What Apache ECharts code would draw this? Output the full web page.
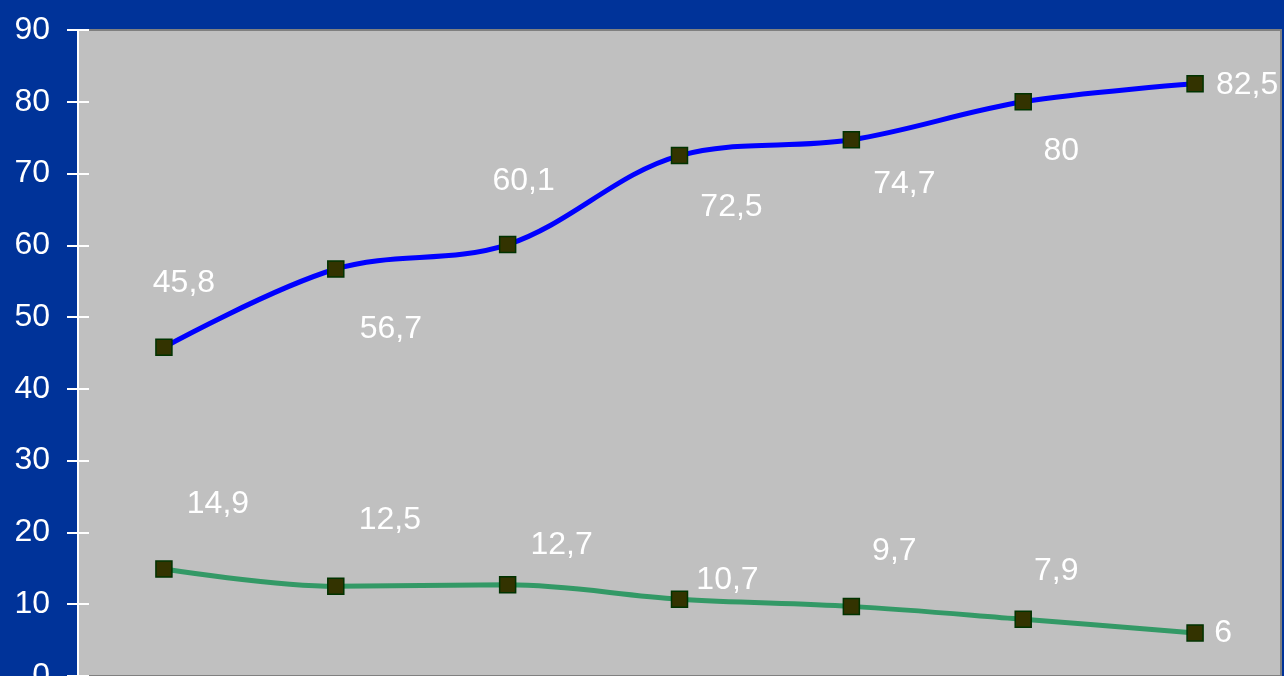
<!DOCTYPE html>
<html><head><meta charset="utf-8">
<script src="https://cdn.jsdelivr.net/npm/echarts@6/dist/echarts.min.js"></script>
<style>html,body{margin:0;padding:0;background:#003399;overflow:hidden;}#c{width:1284px;height:700px;}</style>
</head><body><div id="c"></div>
<script>
var categories = ['1', '2', '3', '4', '5', '6', '7'];
var seriesUpper = [45.8, 56.7, 60.1, 72.5, 74.7, 80, 82.5];
var seriesLower = [14.9, 12.5, 12.7, 10.7, 9.7, 7.9, 6];
var yTicks = { min: 0, max: 90, interval: 10 };

var upperOffsets = [[20,-64],[55,60],[16,-63],[52,52],[53,44],[38,49],[52,1]];
var lowerOffsets = [[54,-65],[54,-66],[54,-40],[48,-19],[43,-55],[33,-48],[28,0]];

function fmt(v){ return String(v).replace('.', ','); }
function build(vals, offs){
  return vals.map(function(v,i){
    return { value: v, label: { offset: offs[i] } };
  });
}
var labelStyle = {
  show: true, position: 'inside', color: '#ffffff', fontSize: 32,
  fontFamily: 'Liberation Sans, Arial, sans-serif',
  formatter: function(p){ return fmt(p.value); }
};
var chart = echarts.init(document.getElementById('c'));
chart.setOption({
  backgroundColor: '#003399',
  animation: false,
  grid: { left: 78, right: 3, top: 30, bottom: 24, show: true, backgroundColor: '#c0c0c0', borderColor: '#808080', borderWidth: 2 },
  xAxis: { type: 'category', data: categories, boundaryGap: true, show: false },
  yAxis: [{
    type: 'value', min: yTicks.min, max: yTicks.max, interval: yTicks.interval,
    axisLine: { show: true, lineStyle: { color: '#ffffff', width: 2 } },
    axisTick: { show: true, length: 11, lineStyle: { color: '#ffffff', width: 2 } },
    axisLabel: { color: '#ffffff', fontSize: 32, margin: 28, fontFamily: 'Liberation Sans, Arial, sans-serif' },
    splitLine: { show: false }
  },{
    type: 'value', min: yTicks.min, max: yTicks.max, interval: yTicks.interval, position: 'left',
    axisLine: { show: false },
    axisTick: { show: true, inside: true, length: 11, lineStyle: { color: '#ffffff', width: 2 } },
    axisLabel: { show: false }, splitLine: { show: false }
  }],
  series: [{
    type: 'line', data: build(seriesUpper, upperOffsets), smooth: 0.35,
    lineStyle: { color: '#0000ff', width: 5 },
    symbol: 'rect', symbolSize: 16,
    itemStyle: { color: '#333300', borderColor: '#003300', borderWidth: 1.5 },
    label: labelStyle, z: 3
  },{
    type: 'line', data: build(seriesLower, lowerOffsets), smooth: 0.35,
    lineStyle: { color: '#339966', width: 5 },
    symbol: 'rect', symbolSize: 16,
    itemStyle: { color: '#333300', borderColor: '#003300', borderWidth: 1.5 },
    label: labelStyle, z: 3
  }]
});
</script></body></html>
